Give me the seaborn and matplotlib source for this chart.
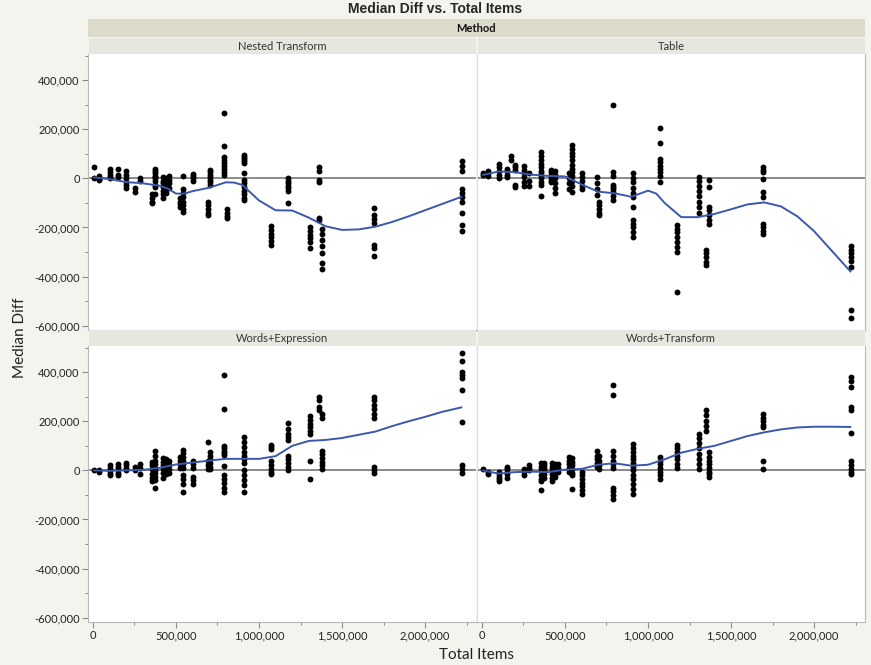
import pandas as pd
import matplotlib.pyplot as plt
import seaborn as sns
from matplotlib.patches import Rectangle
from matplotlib.ticker import FuncFormatter, MultipleLocator

methods = ["Nested Transform", "Table", "Words+Expression", "Words+Transform"]

# Total Items (in 1000s) -> Median Diff values (in 1000s)
nested_transform = {
    5: [48, 0], 35: [10, 3, -2, -6], 100: [40, 25, 15, 5, 0], 150: [38, 15, 5],
    200: [30, 15, 0, -15, -25, -40], 255: [-40, -55], 285: [0, -10],
    355: [-65, -80, -95, -100], 375: [40, 30, 20, 10, 5, 0, -10, -25, -35, -65],
    420: [5, -10, -20, -35, -50, -65, -80], 440: [0, -15, -30, -45, -60],
    455: [10, -5, -20, -40], 525: [-80, -95, -105, -115],
    540: [10, -45, -60, -75, -95, -110, -125, -135], 600: [18, 10, 0, -10],
    690: [-95, -110, -125, -140, -150], 705: [35, 25, 15, 5, -5, -15, -25],
    790: [268, 132, 88, 75, 62, 50, 38, 25, 14], 810: [-125, -140, -155, -163],
    910: [95, 88, 80, 70, 61, 23, -5, -20, -35, -50, -65, -80, -88],
    1075: [-195, -210, -225, -240, -255, -270],
    1175: [0, -10, -20, -30, -40, -50, -100],
    1305: [-200, -215, -230, -245, -260, -283],
    1362: [48, 30, -5, -15, -160, -170],
    1378: [-205, -225, -250, -275, -305, -345, -368],
    1690: [-120, -150, -165, -180, -270, -285, -315],
    2220: [72, 50, 30, -45, -60, -75, -95, -143, -190, -214],
}
table = {
    5: [20, 12], 35: [30, 20, 8], 100: [60, 45, 30, 15, 0], 150: [40, 30, 15, 5],
    175: [90, 75], 200: [55, 45, 35, -25, -35], 255: [50, 35, 20, 5, -15, -30],
    285: [20, -10, -30], 355: [108, 90, 75, 60, 45, 30, 20, 10, 0, -15, -25, -70],
    415: [35, 25, 15, 5, -5, -15], 440: [30, 15, 0, -20, -40, -60],
    525: [20, 0, -20, -45],
    540: [135, 120, 105, 90, 75, 55, 40, 25, 10, -10, -30, -55],
    600: [20, 5, -10, -30, -45], 690: [5, -20, -45, -68],
    705: [-95, -110, -125, -140, -150],
    790: [298, 27, 10, -25, -35, -45, -55, -70, -88],
    910: [20, 0, -15, -40, -60, -75, -115, -170, -185, -200, -220, -238],
    1075: [207, 146, 78, 65, 52, 40, 25, 10, -14],
    1175: [-190, -205, -220, -240, -260, -280, -300, -465],
    1305: [7, -10, -30, -50, -70, -95, -115, -140],
    1350: [-290, -305, -320, -340, -355],
    1370: [-5, -35, -115, -130, -150, -170, -185],
    1690: [48, 35, 27, -4, -55, -75, -185, -200, -215, -227],
    2220: [-276, -290, -305, -320, -335, -360, -535, -570],
}
words_expression = {
    5: [3], 35: [2, -5], 100: [20, 10, 0, -10, -20], 150: [25, 15, 5, -10, -20],
    200: [30, 20, 10, 0], 255: [12, 0], 285: [25, 10, -15],
    355: [35, 20, 5, -15, -30, -45], 375: [80, 60, 40, 25, 10, 0, -10, -25, -40, -70],
    420: [50, 35, 20, 5, -10, -30], 440: [45, 25, 10, 0, -15], 455: [40, 20, 5, -10],
    525: [55, 40, 25, 10], 540: [85, 70, 55, 40, 25, 10, -20, -35, -55, -90],
    600: [40, 25, 10, -25, -40, -55], 690: [115, 40, 20, 5], 705: [75, 60, 45, 30, 15, 5],
    790: [389, 252, 100, 90, 80, 70, 62, 17, -20, -35, -50, -70, -89],
    910: [135, 115, 95, 75, 60, 45, 30, 0, -20, -40, -60, -89],
    1075: [105, 95, 88, 40, 20, 5, -5, -15],
    1175: [192, 170, 150, 135, 125, 60, 45, 30, 15, 0],
    1305: [222, 205, 190, 175, 160, 150, 37, -34],
    1362: [298, 285, 260, 245], 1378: [228, 215, 80, 65, 50, 35, 20, 5],
    1690: [300, 285, 265, 250, 230, 215, 12, 0, -12],
    2220: [478, 447, 400, 390, 378, 327, 197, 20, 5, -10],
}
words_transform = {
    5: [4], 35: [-7, -14], 100: [-5, -15, -25, -35, -45], 150: [15, 5, -5, -15, -30],
    255: [7, -5, -20], 285: [22, 10, 0], 355: [30, 15, 0, -20, -35, -45, -80],
    375: [32, 20, 10, 0, -15, -30], 420: [30, 15, 0, -15, -30, -45],
    440: [28, 15, 5, -10, -25], 455: [25, 10, -5], 525: [55, 40, 25, 10, -5],
    540: [50, 35, 20, 5, -10, -20, -75], 600: [-5, -20, -35, -50, -65, -80, -96],
    690: [80, 60, 45, 30, 15], 705: [60, 40, 20, 5],
    790: [348, 309, 80, 60, 40, 25, 10, -70, -85, -100, -117],
    910: [106, 90, 75, 60, 45, 30, 15, 0, -18, -35, -55, -75, -96],
    1075: [55, 40, 25, 10, -5, -20, -34], 1175: [105, 90, 75, 60, 45, 25, 10],
    1305: [150, 130, 110, 90, 65, 45, 25, 4], 1350: [245, 225, 200, 180, 160],
    1370: [75, 55, 40, 25, 10, -5, -15, -28], 1690: [228, 215, 200, 185, 178, 37, 5],
    2220: [381, 365, 340, 260, 248, 151, 37, 20, 5, -5, -14],
}

# smoother curve values (1000s) read at the given Total Items (1000s)
nested_smooth = {5: 4, 100: -3, 200: -15, 300: -20, 400: -30, 450: -41, 500: -62,
                 550: -62, 600: -52, 700: -38, 800: -16, 850: -17, 900: -27,
                 1000: -90, 1100: -130, 1200: -131, 1300: -160, 1400: -195,
                 1500: -210, 1600: -208, 1700: -197, 1800: -178, 1900: -155,
                 2000: -130, 2100: -105, 2220: -75}
table_smooth = {5: 14, 100: 28, 200: 25, 300: 15, 400: 10, 500: 8, 600: -25,
                700: -54, 800: -61, 900: -75, 1000: -50, 1050: -62, 1100: -100,
                1200: -158, 1300: -158, 1400: -145, 1500: -126, 1600: -106,
                1700: -98, 1800: -114, 1900: -155, 2000: -215, 2100: -290, 2220: -380}
we_smooth = {5: 0, 100: -2, 200: 0, 300: 2, 400: 10, 500: 24, 600: 32, 700: 40,
             800: 47, 900: 47, 1000: 47, 1100: 58, 1200: 100, 1300: 120, 1400: 124,
             1500: 132, 1600: 145, 1700: 158, 1800: 180, 1900: 200, 2000: 218,
             2100: 238, 2220: 257}
wt_smooth = {5: 0, 100: -13, 200: -7, 300: -5, 400: -7, 500: 3, 600: 6, 700: 23,
             800: 29, 850: 24, 900: 19, 1000: 23, 1100: 45, 1200: 72, 1300: 88,
             1400: 100, 1500: 120, 1600: 140, 1700: 155, 1800: 167, 1900: 175,
             2000: 178, 2100: 178, 2220: 177}

rows, srows = [], []
for m, d, s in zip(methods, [nested_transform, table, words_expression, words_transform],
                   [nested_smooth, table_smooth, we_smooth, wt_smooth]):
    for items, diffs in d.items():
        for v in diffs:
            rows.append((m, items * 1000, v * 1000))
    for items, v in s.items():
        srows.append((m, items * 1000, v * 1000))
df = pd.DataFrame(rows, columns=["Method", "Total Items", "Median Diff"])
smooth_df = pd.DataFrame(srows, columns=["Method", "Total Items", "Median Diff"])

sns.set_theme(style="white")
plt.rcParams['font.family'] = ['Lato', 'DejaVu Sans']

g = sns.FacetGrid(df, col="Method", col_order=methods, col_wrap=2, height=3, aspect=1.4,
                  sharex=True, sharey=True, despine=False)
g.map_dataframe(sns.scatterplot, x="Total Items", y="Median Diff", color="black",
                s=18, linewidth=0, zorder=3)

fmt = FuncFormatter(lambda v, p: f"{v:,.0f}")
for i, (ax, m) in enumerate(zip(g.axes.flat, methods)):
    ax.axhline(0, color="#6b6b6b", lw=1.1, zorder=1)
    sns.lineplot(data=smooth_df[smooth_df["Method"] == m], x="Total Items", y="Median Diff",
                 ax=ax, color="#3a58ad", lw=1.4, zorder=4)
    ax.set_xlim(-30000, 2307000)
    ax.set_ylim(-618000, 507000)
    ax.xaxis.set_major_locator(MultipleLocator(500000))
    ax.xaxis.set_minor_locator(MultipleLocator(250000))
    ax.yaxis.set_major_locator(MultipleLocator(200000))
    ax.yaxis.set_minor_locator(MultipleLocator(100000))
    ax.xaxis.set_major_formatter(fmt)
    ax.yaxis.set_major_formatter(fmt)
    ax.tick_params(which="both", direction="out", color="#8a8a8a", labelsize=8,
                   labelcolor="#222222", pad=2, bottom=True, left=True)
    ax.tick_params(which="major", length=4, width=0.8)
    ax.tick_params(which="minor", length=2.5, width=0.7)
    if i < 2:
        ax.tick_params(axis="x", which="both", bottom=False, labelbottom=False)
    if i % 2 == 1:
        ax.tick_params(axis="y", which="both", left=False, labelleft=False)
    for sp in ax.spines.values():
        sp.set_color("#b8b8b8")
        sp.set_linewidth(0.8)
    ax.spines["top"].set_visible(False)
    if i % 2 == 0:
        ax.spines["right"].set_visible(False)
    else:
        ax.spines["left"].set_color("#dedede")
    ax.set_facecolor("white")
    ax.set_title("")
    ax.set_xlabel("")
    ax.set_ylabel("")

W, H = 871, 665
fig = g.figure
fig.set_size_inches(W / 100, H / 100)
fig.set_facecolor("#f4f4ef")
fig.subplots_adjust(left=88 / W, right=865 / W, top=1 - 54 / H, bottom=1 - 622 / H,
                    wspace=1 / 388, hspace=16 / 276)

# "Method" band and facet headers
fig.add_artist(Rectangle((88 / W, 1 - 37 / H), 777 / W, 18 / H, transform=fig.transFigure,
                         facecolor="#dcdacb", edgecolor="none"))
fig.text(476 / W, 1 - 28 / H, "Method", ha="center", va="center", fontsize=8,
         fontweight="bold", color="#111111")
for ax, m in zip(g.axes.flat, methods):
    b = ax.get_position()
    fig.add_artist(Rectangle((b.x0 + 0.5 / W, b.y1), b.width - 1 / W, 16 / H,
                             transform=fig.transFigure, facecolor="#e8e7df", edgecolor="none"))
    fig.text((b.x0 + b.x1) / 2, b.y1 + 8 / H, m, ha="center", va="center", fontsize=8,
             color="#333333")

fig.text(0.5, 1 - 9 / H, "Median Diff vs. Total Items", ha="center", va="center",
         fontsize=10, fontweight="bold", family=["Liberation Sans", "DejaVu Sans"])
fig.text(20 / W, 1 - 338 / H, "Median Diff", rotation=90, ha="center", va="center",
         fontsize=11, color="#222222")
fig.text(476 / W, 1 - 655 / H, "Total Items", ha="center", va="center", fontsize=11,
         color="#222222")

fig.savefig("out.png", dpi=100, facecolor=fig.get_facecolor())
